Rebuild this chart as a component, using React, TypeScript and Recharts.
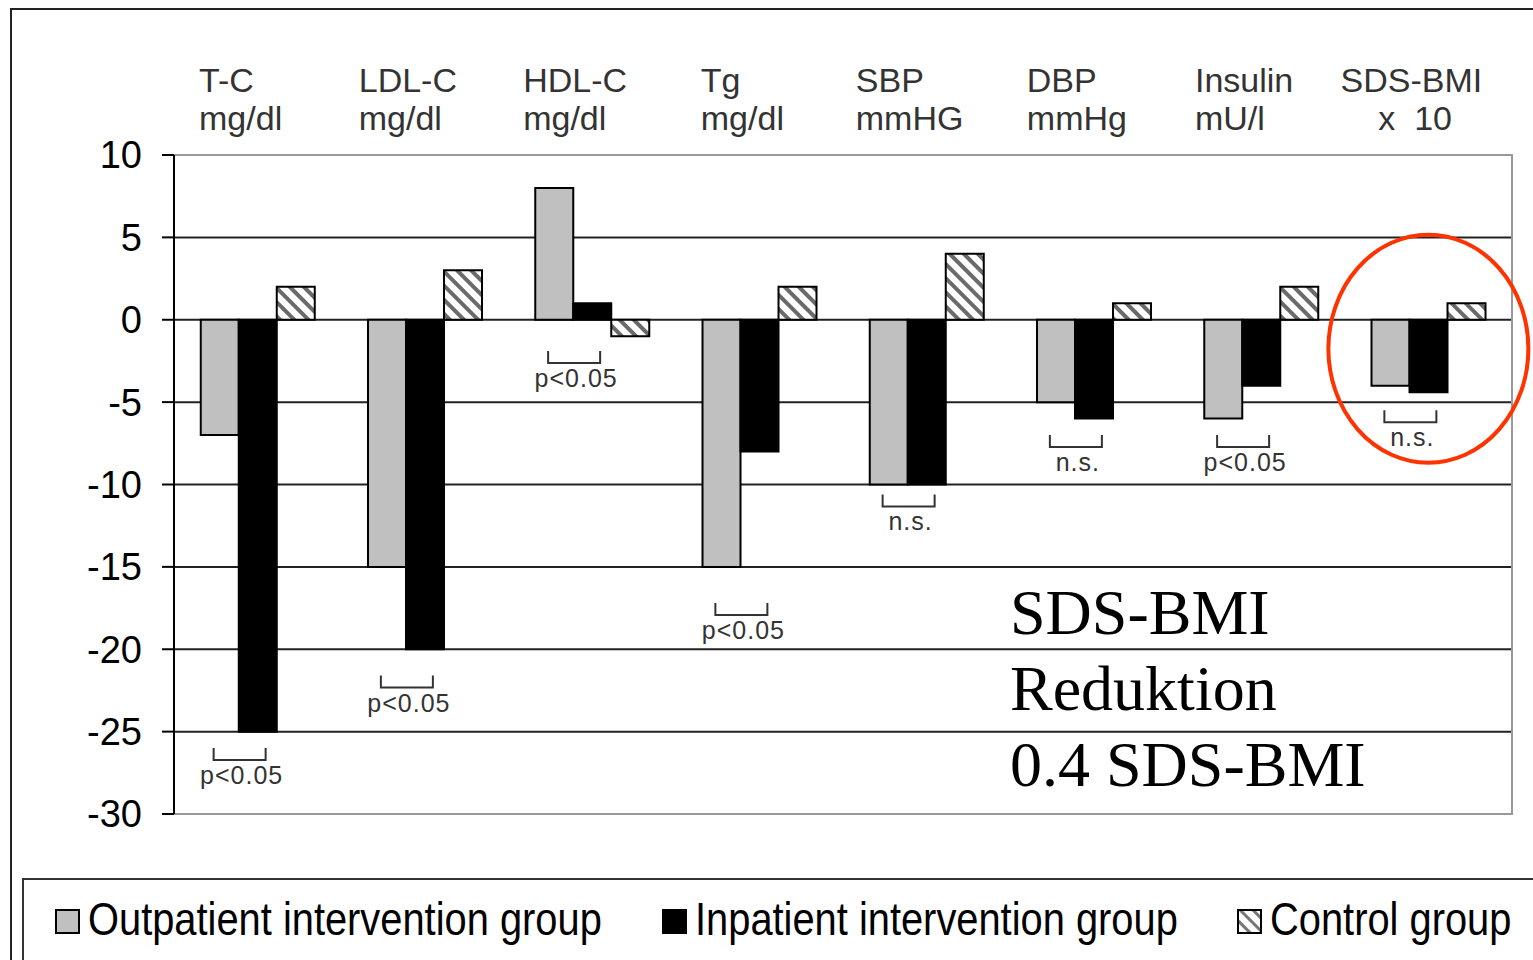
import { BarChart, Bar, XAxis, YAxis, CartesianGrid, ReferenceArea, ReferenceDot } from "recharts"

const categories = ["T-C", "LDL-C", "HDL-C", "Tg", "SBP", "DBP", "Insulin", "SDS-BMI"]
const units = ["mg/dl", "mg/dl", "mg/dl", "mg/dl", "mmHG", "mmHg", "mU/l", "    x  10"]
const outpatient = [-7, -15, 8, -15, -10, -5, -6, -4]
const inpatient = [-25, -20, 1, -8, -10, -6, -4, -4.4]
const control = [2, 3, -1, 2, 4, 1, 2, 1]
const significance = ["p<0.05", "p<0.05", "p<0.05", "p<0.05", "n.s.", "n.s.", "p<0.05", "n.s."]
const bracketLevel = [-26, -21.6, -1.9, -17.2, -10.6, -7, -7, -5.5]
const yTicks = [10, 5, 0, -5, -10, -15, -20, -25, -30]
const gridValues = [5, 0, -5, -10, -15, -20, -25]
const legendItems = ["Outpatient intervention group", "Inpatient intervention group", "Control group"]

const data = categories.map((name, i) => ({
  name,
  outpatient: outpatient[i],
  inpatient: inpatient[i],
  control: control[i],
}))

const SANS = "'Liberation Sans', Arial, sans-serif"
const SERIF = "'Liberation Serif', 'Times New Roman', serif"

let ctx: CanvasRenderingContext2D | null = null
function measure(text: string, font: string) {
  if (!ctx) ctx = document.createElement("canvas").getContext("2d")
  if (!ctx) return text.length * 17
  ctx.font = font
  return ctx.measureText(text.trim()).width
}

function CategoryTick(props: any) {
  const { x, payload } = props
  const i = categories.indexOf(payload.value)
  const font = `34px ${SANS}`
  const w = Math.max(measure(payload.value, font), measure(units[i], font))
  const start = x - 17 - w / 2
  return (
    <text fontSize={34} fill="#333" fontFamily={SANS} style={{ whiteSpace: "pre" }}>
      <tspan x={start} y={92}>{payload.value}</tspan>
      <tspan x={start} y={130}>{units[i]}</tspan>
    </text>
  )
}

function Bracket({ cx, cy, label }: { cx: number; cy: number; label: string }) {
  const bx = cx - 18
  return (
    <g>
      <path d={`M${bx - 26},${cy} V${cy + 12} H${bx + 26} V${cy}`} stroke="#333" strokeWidth={2} fill="none" />
      <text x={bx + 2} y={cy + 36} textAnchor="middle" fontSize={25} letterSpacing={1} fill="#333" fontFamily={SANS}>
        {label}
      </text>
    </g>
  )
}

const swatch = (i: number) => {
  const base = { width: 21, height: 21, border: "2px solid #000", boxSizing: "content-box" as const }
  if (i === 0) return <div style={{ ...base, background: "#c0c0c0" }} />
  if (i === 1) return <div style={{ ...base, background: "#000" }} />
  return (
    <svg width={25} height={25} style={{ display: "block" }}>
      <rect x={1} y={1} width={23} height={23} fill="url(#hatchLegend)" stroke="#000" strokeWidth={2} />
      <defs>
        <pattern id="hatchLegend" patternUnits="userSpaceOnUse" width={9} height={9} patternTransform="rotate(-45)">
          <rect width={9} height={9} fill="#fff" />
          <rect width={3} height={9} fill="#777" />
        </pattern>
      </defs>
    </svg>
  )
}

const legendLeft = [55, 662, 1237]

export default function App() {
  return (
    <div style={{ position: "relative", width: 1533, height: 960, overflow: "hidden", background: "#fff" }}>
      <style>{`body{margin:0}`}</style>
      <div style={{ position: "absolute", left: 10, top: 8, width: 1600, height: 1000, border: "2px solid #222" }} />
      <div style={{ position: "absolute", left: 0, top: 0 }}>
        <BarChart
          width={1533}
          height={860}
          data={data}
          margin={{ top: 55, right: 21, bottom: 46, left: 74 }}
          barCategoryGap="16%"
          barGap={0}
        >
          <defs>
            <pattern id="hatch" patternUnits="userSpaceOnUse" width={10} height={10} patternTransform="rotate(-45)">
              <rect width={10} height={10} fill="#fff" />
              <rect width={4} height={10} fill="#6a6a6a" />
            </pattern>
          </defs>
          <CartesianGrid vertical={false} stroke="#222" strokeWidth={2} horizontalValues={gridValues} />
          <ReferenceArea y1={-30} y2={10} fill="none" stroke="#999" strokeWidth={2} ifOverflow="visible" />
          <XAxis
            dataKey="name"
            orientation="top"
            height={100}
            axisLine={false}
            tickLine={false}
            interval={0}
            tick={<CategoryTick />}
          />
          <YAxis
            domain={[-30, 10]}
            ticks={yTicks}
            width={100}
            interval={0}
            tickSize={12}
            tickMargin={20}
            axisLine={{ stroke: "#000", strokeWidth: 2 }}
            tickLine={{ stroke: "#000", strokeWidth: 2 }}
            tick={{ fontSize: 38, fill: "#000", fontFamily: SANS }}
          />
          <Bar dataKey="outpatient" fill="#c0c0c0" stroke="#000" strokeWidth={2} isAnimationActive={false} />
          <Bar dataKey="inpatient" fill="#000" stroke="#000" strokeWidth={2} isAnimationActive={false} />
          <Bar dataKey="control" fill="url(#hatch)" stroke="#000" strokeWidth={2} isAnimationActive={false} />
          {categories.map((c, i) => (
            <ReferenceDot
              key={c}
              x={c}
              y={bracketLevel[i]}
              r={0}
              ifOverflow="visible"
              shape={(p: any) => <Bracket cx={p.cx} cy={p.cy} label={significance[i]} />}
            />
          ))}
          <ReferenceDot
            x="SDS-BMI"
            y={-1.76}
            r={0}
            ifOverflow="visible"
            shape={(p: any) => (
              <ellipse cx={p.cx} cy={p.cy} rx={100} ry={114} fill="none" stroke="#ff3300" strokeWidth={4} />
            )}
          />
        </BarChart>
      </div>
      <div
        style={{
          position: "absolute",
          left: 1010,
          top: 575,
          fontFamily: SERIF,
          fontSize: 64,
          lineHeight: "76px",
          color: "#000",
        }}
      >
        <div>SDS-BMI</div>
        <div>Reduktion</div>
        <div>0.4 SDS-BMI</div>
      </div>
      <div style={{ position: "absolute", left: 22, top: 878, width: 1600, height: 200, border: "2px solid #333" }} />
      {legendItems.map((label, i) => (
        <div key={label} style={{ position: "absolute", left: legendLeft[i], top: 909 }}>
          {swatch(i)}
          <div
            style={{
              position: "absolute",
              left: 33,
              top: -20,
              fontFamily: SANS,
              fontSize: 46,
              lineHeight: "60px",
              whiteSpace: "nowrap",
              color: "#000",
              transform: "scaleX(0.866)",
              transformOrigin: "left center",
            }}
          >
            {label}
          </div>
        </div>
      ))}
    </div>
  )
}
